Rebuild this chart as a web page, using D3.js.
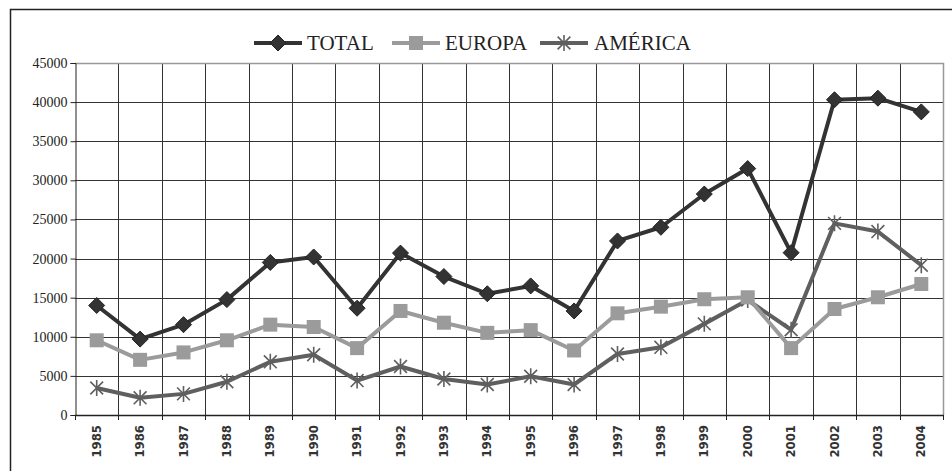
<!DOCTYPE html>
<html>
<head>
<meta charset="utf-8">
<script src="https://cdn.jsdelivr.net/npm/d3@7"></script>
<style>
  body { margin: 0; background: #fff; }
  svg { display: block; }
</style>
</head>
<body>
<div id="chart"></div>
<script>
const years = ['1985', '1986', '1987', '1988', '1989', '1990', '1991', '1992', '1993', '1994',
  '1995', '1996', '1997', '1998', '1999', '2000', '2001', '2002', '2003', '2004'];
const total = [14000, 9700, 11550, 14750, 19500, 20200, 13650, 20700, 17700, 15500,
  16500, 13300, 22250, 24000, 28250, 31500, 20750, 40300, 40500, 38750];
const europa = [9550, 7050, 8000, 9550, 11550, 11250, 8550, 13300, 11800, 10500,
  10850, 8250, 13000, 13850, 14800, 15050, 8550, 13550, 15050, 16750];
const america = [3450, 2200, 2700, 4250, 6800, 7700, 4400, 6200, 4600, 3900,
  4950, 3900, 7800, 8650, 11650, 14700, 10900, 24500, 23450, 19150];
const yTicks = [0, 5000, 10000, 15000, 20000, 25000, 30000, 35000, 40000, 45000];
const seriesNames = ['TOTAL', 'EUROPA', 'AMÉRICA'];

const width = 952, height = 471;
const plot = { left: 75, right: 943, top: 63, bottom: 415 };
const serif = '"Liberation Serif", "Times New Roman", serif';

const svg = d3.select('#chart').append('svg')
  .attr('width', width)
  .attr('height', height);

// outer frame (runs off the right and bottom edges like the original)
svg.append('path')
  .attr('d', 'M10.5,' + (height + 5) + 'V9.5H' + (width + 5))
  .attr('fill', 'none')
  .attr('stroke', '#222')
  .attr('stroke-width', 1.5);

const x = d3.scaleBand().domain(years).range([plot.left, plot.right]);
const y = d3.scaleLinear().domain([0, 45000]).range([plot.bottom, plot.top]);

// horizontal gridlines
svg.append('g')
  .selectAll('line')
  .data(yTicks.slice(1, -1))
  .join('line')
  .attr('x1', plot.left).attr('x2', plot.right)
  .attr('y1', d => Math.round(y(d)) + 0.5).attr('y2', d => Math.round(y(d)) + 0.5)
  .attr('stroke', '#333');

// vertical gridlines at category boundaries
svg.append('g')
  .selectAll('line')
  .data(years.slice(1))
  .join('line')
  .attr('x1', d => Math.round(x(d)) + 0.5).attr('x2', d => Math.round(x(d)) + 0.5)
  .attr('y1', plot.top).attr('y2', plot.bottom)
  .attr('stroke', '#333');

// top and right border of plot area (grey)
svg.append('path')
  .attr('d', 'M' + plot.left + ',' + (plot.top + 0.5) + 'H' + (plot.right + 0.5) + 'V' + plot.bottom)
  .attr('fill', 'none')
  .attr('stroke', '#999')
  .attr('stroke-width', 1.5);

// y axis
const yAxis = svg.append('g')
  .attr('transform', 'translate(' + (plot.left + 0.5) + ',0)')
  .call(d3.axisLeft(y).tickValues(yTicks).tickSize(5).tickPadding(3).tickFormat(d3.format('d')));
yAxis.attr('font-family', null).attr('font-size', null);
yAxis.select('.domain').attr('stroke', '#222');
yAxis.selectAll('.tick line').attr('stroke', '#222');
yAxis.selectAll('text')
  .style('font-family', serif)
  .style('font-size', '14px')
  .attr('fill', '#222');

// x axis: ticks at category boundaries
svg.append('line')
  .attr('x1', plot.left).attr('x2', plot.right + 1)
  .attr('y1', plot.bottom + 0.5).attr('y2', plot.bottom + 0.5)
  .attr('stroke', '#222').attr('stroke-width', 1.5);
svg.append('g')
  .selectAll('line')
  .data(years.concat(['end']))
  .join('line')
  .attr('x1', (d, i) => Math.round(plot.left + i * x.step()) + 0.5)
  .attr('x2', (d, i) => Math.round(plot.left + i * x.step()) + 0.5)
  .attr('y1', plot.bottom).attr('y2', plot.bottom + 5)
  .attr('stroke', '#222');

// rotated year labels
svg.append('g')
  .selectAll('text')
  .data(years)
  .join('text')
  .attr('transform', d => 'translate(' + (x(d) + x.bandwidth() / 2 + 4) + ',425) rotate(-90)')
  .attr('text-anchor', 'end')
  .style('font-family', '"DejaVu Sans Condensed", "DejaVu Sans", sans-serif')
  .style('font-weight', 'bold')
  .style('font-size', '13px')
  .attr('fill', '#333')
  .text(d => d);

const cx = d => x(d) + x.bandwidth() / 2;
const lineGen = vals => d3.line()
  .x((d, i) => cx(years[i]))
  .y(d => y(d))(vals);

const styles = {
  TOTAL: { color: '#333333', values: total },
  EUROPA: { color: '#9b9b9b', values: europa },
  'AMÉRICA': { color: '#5f5f5f', values: america }
};

// marker drawers
function drawMarker(g, name, px, py) {
  const c = styles[name].color;
  if (name === 'TOTAL') {
    g.append('path')
      .attr('d', 'M' + px + ',' + (py - 8) + 'L' + (px + 8) + ',' + py + 'L' + px + ',' + (py + 8) + 'L' + (px - 8) + ',' + py + 'Z')
      .attr('fill', c)
      .attr('stroke', '#222')
      .attr('stroke-width', 1);
  } else if (name === 'EUROPA') {
    g.append('rect')
      .attr('x', px - 7).attr('y', py - 7)
      .attr('width', 14).attr('height', 14)
      .attr('fill', c);
  } else {
    const r = 8;
    const d = 'M' + px + ',' + (py - r) + 'V' + (py + r) +
      'M' + (px - r * 0.8) + ',' + (py - r * 0.8) + 'L' + (px + r * 0.8) + ',' + (py + r * 0.8) +
      'M' + (px - r * 0.8) + ',' + (py + r * 0.8) + 'L' + (px + r * 0.8) + ',' + (py - r * 0.8);
    g.append('path')
      .attr('d', d)
      .attr('fill', 'none')
      .attr('stroke', c)
      .attr('stroke-width', 1.6);
  }
}

// draw order: AMÉRICA, EUROPA, TOTAL so total sits on top
['AMÉRICA', 'EUROPA', 'TOTAL'].forEach(name => {
  const s = styles[name];
  const g = svg.append('g');
  g.append('path')
    .attr('d', lineGen(s.values))
    .attr('fill', 'none')
    .attr('stroke', s.color)
    .attr('stroke-width', 4)
    .attr('stroke-linejoin', 'round');
  s.values.forEach((v, i) => drawMarker(g, name, cx(years[i]), y(v)));
});

// legend
const legendPos = [
  { name: 'TOTAL', x0: 254, tx: 307 },
  { name: 'EUROPA', x0: 392, tx: 445 },
  { name: 'AMÉRICA', x0: 540, tx: 594 }
];
const legend = svg.append('g');
legendPos.forEach(l => {
  const c = styles[l.name].color;
  legend.append('line')
    .attr('x1', l.x0).attr('x2', l.x0 + 48)
    .attr('y1', 43).attr('y2', 43)
    .attr('stroke', c).attr('stroke-width', 4);
  drawMarker(legend, l.name, l.x0 + 24, 43);
  legend.append('text')
    .attr('x', l.tx).attr('y', 50)
    .style('font-family', serif)
    .style('font-size', '21px')
    .attr('fill', '#222')
    .text(l.name);
});
</script>
</body>
</html>
